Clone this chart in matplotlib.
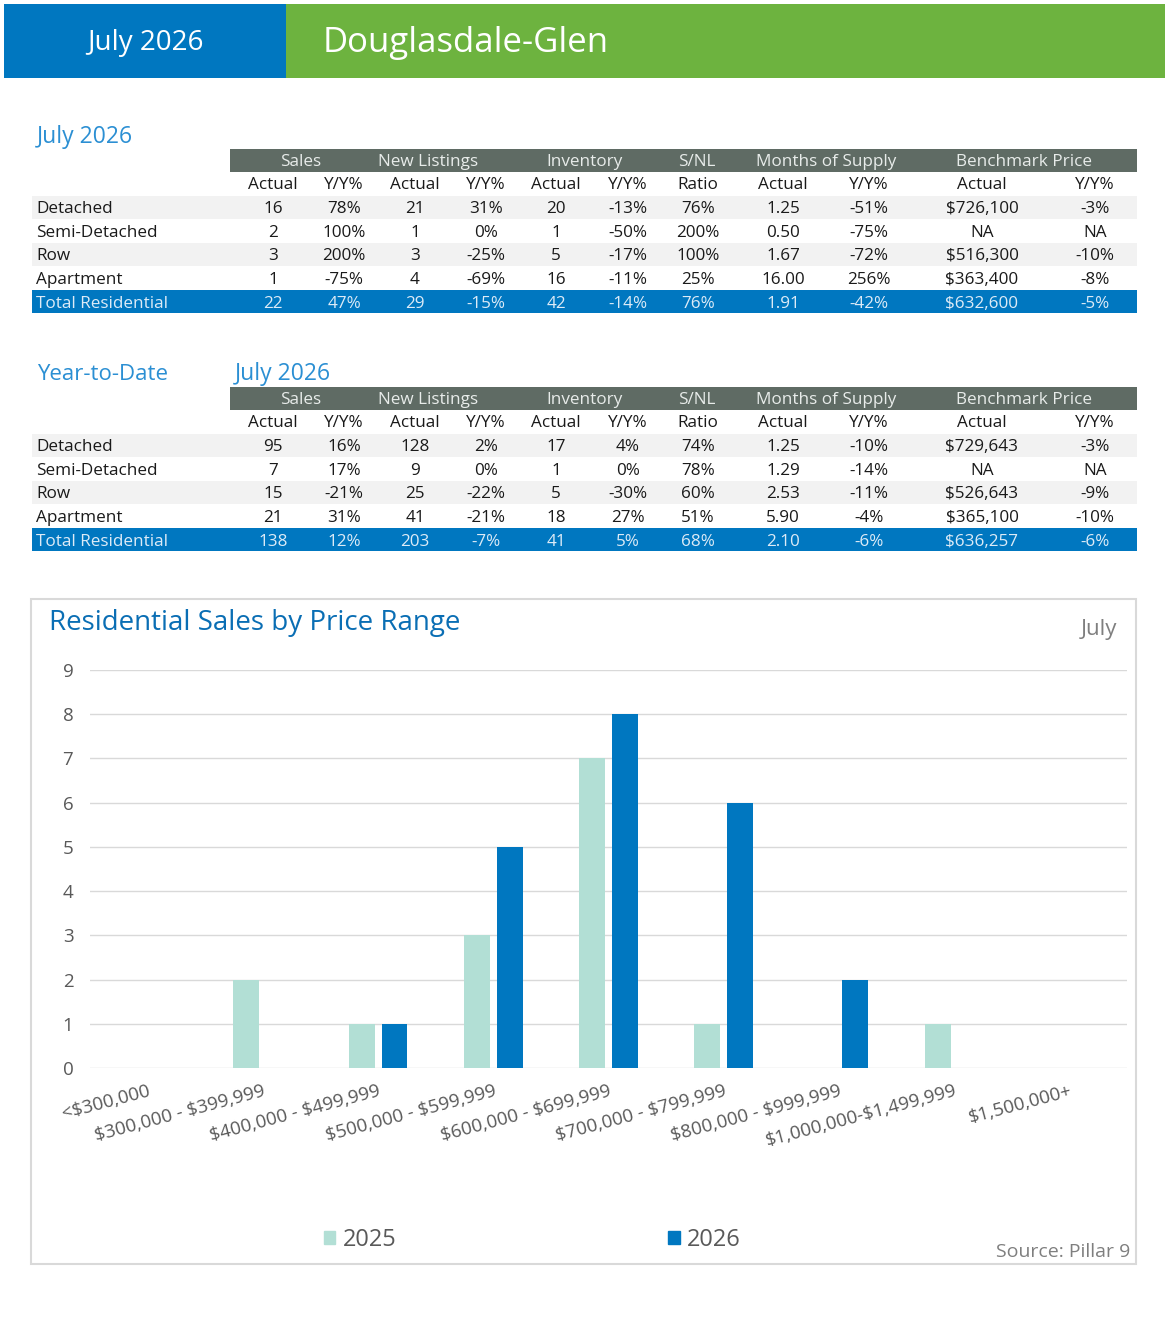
import matplotlib
matplotlib.use("Agg")
from matplotlib import pyplot as plt
from matplotlib.patches import Rectangle, Patch

plt.rcParams['font.family'] = ['Open Sans', 'DejaVu Sans']
plt.rcParams['text.parse_math'] = False

# ---- data ----
month_label = "July 2026"
community = "Douglasdale-Glen"

groups = ["Sales", "New Listings", "Inventory", "S/NL", "Months of Supply", "Benchmark Price"]
sub_headers = ["Actual", "Y/Y%", "Actual", "Y/Y%", "Actual", "Y/Y%", "Ratio",
               "Actual", "Y/Y%", "Actual", "Y/Y%"]
row_names = ["Detached", "Semi-Detached", "Row", "Apartment", "Total Residential"]

month_detached = ["16", "78%", "21", "31%", "20", "-13%", "76%", "1.25", "-51%", "$726,100", "-3%"]
month_semi = ["2", "100%", "1", "0%", "1", "-50%", "200%", "0.50", "-75%", "NA", "NA"]
month_row = ["3", "200%", "3", "-25%", "5", "-17%", "100%", "1.67", "-72%", "$516,300", "-10%"]
month_apt = ["1", "-75%", "4", "-69%", "16", "-11%", "25%", "16.00", "256%", "$363,400", "-8%"]
month_total = ["22", "47%", "29", "-15%", "42", "-14%", "76%", "1.91", "-42%", "$632,600", "-5%"]

ytd_detached = ["95", "16%", "128", "2%", "17", "4%", "74%", "1.25", "-10%", "$729,643", "-3%"]
ytd_semi = ["7", "17%", "9", "0%", "1", "0%", "78%", "1.29", "-14%", "NA", "NA"]
ytd_row = ["15", "-21%", "25", "-22%", "5", "-30%", "60%", "2.53", "-11%", "$526,643", "-9%"]
ytd_apt = ["21", "31%", "41", "-21%", "18", "27%", "51%", "5.90", "-4%", "$365,100", "-10%"]
ytd_total = ["138", "12%", "203", "-7%", "41", "5%", "68%", "2.10", "-6%", "$636,257", "-6%"]

price_ranges = ["<$300,000", "$300,000 - $399,999", "$400,000 - $499,999",
                "$500,000 - $599,999", "$600,000 - $699,999", "$700,000 - $799,999",
                "$800,000 - $999,999", "$1,000,000-$1,499,999", "$1,500,000+"]
sales_2025 = [0, 2, 1, 3, 7, 1, 0, 1, 0]
sales_2026 = [0, 0, 1, 5, 8, 6, 2, 0, 0]

# ---- layout / style ----
W, H = 1167, 1321
BLUE = "#0077C0"
GREEN = "#6DB33F"
GREY_BAR = "#5F6B64"
LIGHT_ROW = "#F2F2F2"
TITLE_BLUE = "#2B8FD3"
TEAL = "#B2DFD5"
TXT = "#1A1A1A"
FS = 12.3

group_x = [301, 428, 585, 697, 826, 1024]
col_x = [273, 344, 415, 486, 556, 628, 698, 783, 869, 982, 1095]

fig = plt.figure(figsize=(W / 100, H / 100), dpi=100)
bg = fig.add_axes([0, 0, 1, 1])
bg.set_xlim(0, W)
bg.set_ylim(H, 0)
bg.axis("off")

# header banner
bg.add_patch(Rectangle((4, 4), 282, 74, color=BLUE, lw=0))
bg.add_patch(Rectangle((286, 4), 879, 74, color=GREEN, lw=0))
bg.text(145, 43, month_label, color="white", fontsize=20, ha="center", va="center")
bg.text(323, 43, community, color="white", fontsize=25, ha="left", va="center")


def draw_table(top, rows):
    # grey group bar
    bg.add_patch(Rectangle((230, top), 907, 23, color=GREY_BAR, lw=0))
    for g, x in zip(groups, group_x):
        bg.text(x, top + 13, g, color="#E8ECEA", fontsize=FS, ha="center", va="center")
    for s, x in zip(sub_headers, col_x):
        bg.text(x, top + 36, s, color=TXT, fontsize=FS, ha="center", va="center")
    for i, (name, vals) in enumerate(zip(row_names, rows)):
        yc = top + 58 + i * 23.7
        is_total = i == len(rows) - 1
        if is_total:
            bg.add_patch(Rectangle((32, yc - 11.5), 1105, 23, color=BLUE, lw=0))
            col = "#DDEBF7"
        else:
            if i % 2 == 0:
                bg.add_patch(Rectangle((32, yc - 11.5), 1105, 23, color=LIGHT_ROW, lw=0))
            col = TXT
        bg.text(36, yc + 2, name, color=col, fontsize=FS, ha="left", va="center")
        for v, x in zip(vals, col_x):
            bg.text(x, yc + 2, v, color=col, fontsize=FS, ha="center", va="center")


bg.text(37, 137, month_label, color=TITLE_BLUE, fontsize=16.5, ha="left", va="center")
draw_table(149, [month_detached, month_semi, month_row, month_apt, month_total])

bg.text(37, 374, "Year-to-Date", color=TITLE_BLUE, fontsize=16, ha="left", va="center")
bg.text(235, 374, month_label, color=TITLE_BLUE, fontsize=16.5, ha="left", va="center")
draw_table(387, [ytd_detached, ytd_semi, ytd_row, ytd_apt, ytd_total])

# chart frame
bg.add_patch(Rectangle((31, 599), 1105, 665, fill=False, ec="#D9D9D9", lw=1.5))
bg.text(49, 623, "Residential Sales by Price Range", color="#0A6EB4", fontsize=20,
        ha="left", va="center")
bg.text(1117, 630, "July", color="#7F7F7F", fontsize=16, ha="right", va="center")
bg.text(1130, 1252, "Source: Pillar 9", color="#7F7F7F", fontsize=14, ha="right", va="center")

# bar chart
ax = fig.add_axes([90 / W, (H - 1068) / H, (1127 - 90) / W, (1068 - 670) / H])
x = list(range(len(price_ranges)))
bw = 0.225
off = 0.143
ax.bar([i - off for i in x], sales_2025, width=bw, color=TEAL, zorder=3)
ax.bar([i + off for i in x], sales_2026, width=bw, color=BLUE, zorder=3)
ax.set_xlim(-0.5, len(price_ranges) - 0.5)
ax.set_ylim(0, 9)
ax.set_yticks(range(0, 10))
ax.grid(axis="y", color="#D9D9D9", lw=1, zorder=0)
for sp in ax.spines.values():
    sp.set_visible(False)
ax.tick_params(axis="both", length=0, colors="#595959", labelsize=13.5)
ax.tick_params(axis="y", pad=12)
ax.set_xticks(x)
ax.set_xticklabels(price_ranges, rotation=15, ha="right", rotation_mode="anchor")
ax.tick_params(axis="x", pad=10)

handles = [Patch(color=TEAL, label="2025"), Patch(color=BLUE, label="2026")]
fig.legend(handles=handles, loc="center", bbox_to_anchor=(532 / W, (H - 1240) / H),
           ncol=2, frameon=False, fontsize=17, handlelength=0.5, handleheight=0.5,
           handletextpad=0.3, columnspacing=11.5, labelcolor="#595959")

fig.savefig("out.png", dpi=100)
